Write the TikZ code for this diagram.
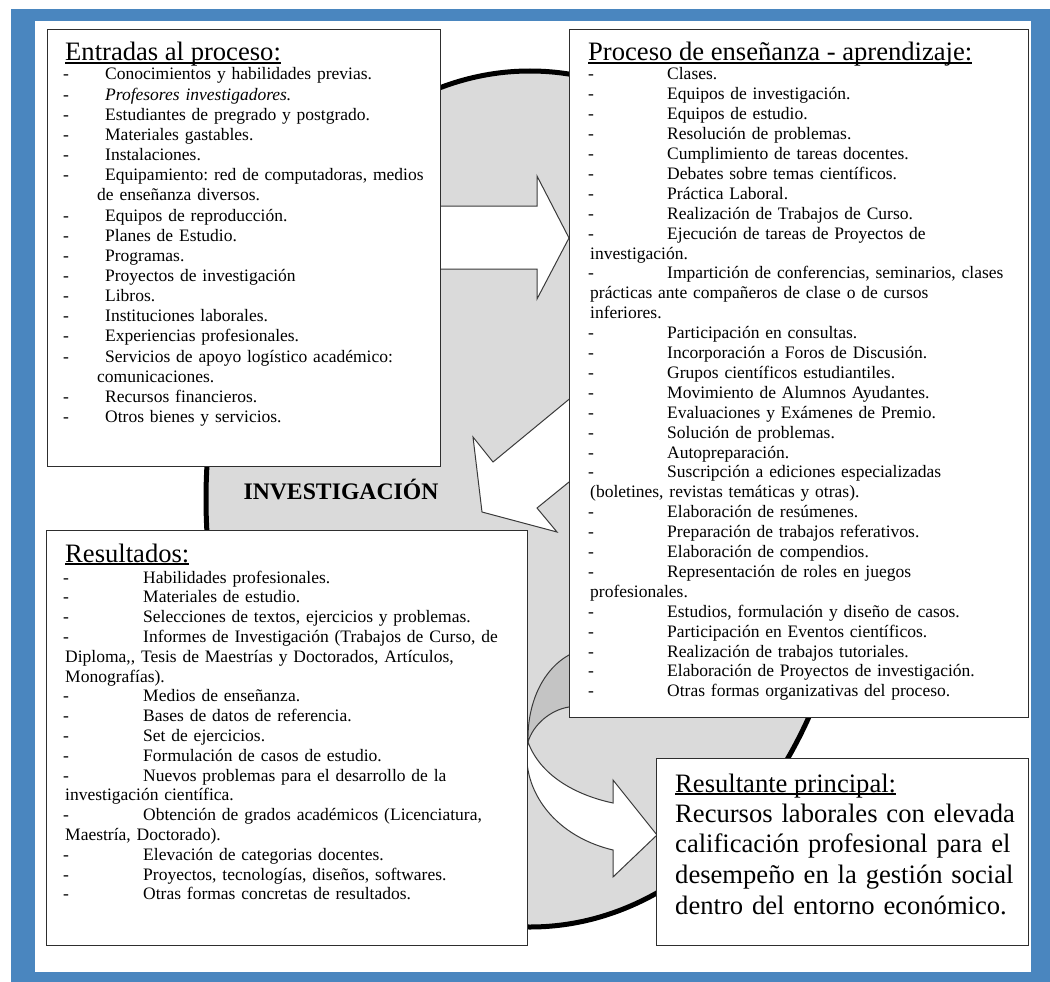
\documentclass[tikz,border=0pt]{standalone}
\usepackage{fontspec}
\setmainfont{Liberation Serif}
\frenchspacing
\definecolor{frameblue}{HTML}{4A86BF}
\definecolor{ellipsefill}{HTML}{DADADA}
\definecolor{bandgray}{HTML}{C4C4C4}
\definecolor{boxline}{HTML}{2E2E2E}
\definecolor{arrowline}{HTML}{3A3A3A}
% list lines: dash, then text at a tab stop; continuation lines
\newcommand\entItem[1]{\makebox[42pt][l]{-}{#1}}
\newcommand\entCont[1]{\hspace*{34pt}{#1}}
\newcommand\proItem[1]{\makebox[79pt][l]{-}{#1}}
\newcommand\proCont[1]{\hspace*{2pt}{#1}}
\newcommand\resItem[1]{\makebox[80pt][l]{-}{#1}}
\newcommand\resCont[1]{\hspace*{2pt}{#1}}
% underline sitting just under the baseline
\newcommand\titleUL[1]{\setbox0\hbox{#1}\rlap{\rule[-2.6pt]{\wd0}{1.3pt}}\box0}
\begin{document}
\begin{tikzpicture}[x=1pt,y=-1pt,
  box/.style={draw=boxline, line width=1.4pt, fill=white, anchor=north west, inner sep=0pt},
  listtext/.style={anchor=base west, inner sep=0pt, text width=450pt, align=left},
  titletext/.style={anchor=base west, inner sep=0pt, font=\fontsize{26.6}{31}\selectfont},
  hollow/.style={fill=white, draw=arrowline, line width=1pt, line join=miter},
]
\useasboundingbox (0,0) rectangle (1050,982);
% frame
\fill[frameblue] (11,9) rectangle (1050,982);
\fill[white] (35,21) rectangle (1031,972);

% research cycle
\draw[fill=ellipsefill, line width=5pt] (530,499) ellipse [x radius=324pt, y radius=428pt];

% arrow: inputs -> process
\draw[hollow] (430,206) -- (537,206) -- (537,176) -- (569,238) -- (537,299)
  -- (537,269) -- (430,269) -- cycle;
% arrow: process -> results
\draw[hollow] (590,382) -- (493,462) -- (473,437) -- (482,512) -- (557,532)
  -- (537,508) -- (590,465) -- cycle;
% curved arrow: back face
\draw[fill=bandgray, draw=arrowline, line width=1pt]
  (590,640) -- (569,655) .. controls (545,668) and (527,700) .. (528,742)
  .. controls (533,725) and (550,710) .. (569,707) -- (590,700) -- cycle;
% curved arrow: front face with head
\draw[hollow] (528,742) .. controls (520,785) and (550,835) .. (613,850)
  -- (613,877) -- (657,835) -- (613,780) -- (613,803)
  .. controls (575,795) and (540,775) .. (528,742) -- cycle;

% boxes
\node[box, minimum width=393pt, minimum height=437pt] (entradas) at (47,29) {};
\node[box, minimum width=459pt, minimum height=688pt] (proceso) at (569,29) {};
\node[box, minimum width=481pt, minimum height=415pt] (resultados) at (46,530) {};
\node[box, minimum width=372pt, minimum height=187pt] (resultante) at (656,758) {};

\node[font=\bfseries\fontsize{23.7}{28}\selectfont, inner sep=0pt] (invest) at (341,490) {INVESTIGACIÓN};

% inputs
\node[titletext] (entradas-title) at (65,61) {\titleUL{Entradas al proceso:}};
\node[listtext, font=\fontsize{17.5}{20.15}\selectfont] (entradas-list) at (63,80) {%
\entItem{Conocimientos y habilidades previas.}\\
\entItem{\itshape Profesores investigadores.}\\
\entItem{Estudiantes de pregrado y postgrado.}\\
\entItem{Materiales gastables.}\\
\entItem{Instalaciones.}\\
\entItem{Equipamiento: red de computadoras, medios}\\
\entCont{de enseñanza diversos.}\\
\entItem{Equipos de reproducción.}\\
\entItem{Planes de Estudio.}\\
\entItem{Programas.}\\
\entItem{Proyectos de investigación}\\
\entItem{Libros.}\\
\entItem{Instituciones laborales.}\\
\entItem{Experiencias profesionales.}\\
\entItem{Servicios de apoyo logístico académico:}\\
\entCont{comunicaciones.}\\
\entItem{Recursos financieros.}\\
\entItem{Otros bienes y servicios.}};

% teaching-learning process
\node[titletext] (proceso-title) at (588,61) {\titleUL{Proceso de enseñanza - aprendizaje:}};
\node[listtext, font=\fontsize{17.5}{19.9}\selectfont] (proceso-list) at (588,80) {%
\proItem{Clases.}\\
\proItem{Equipos de investigación.}\\
\proItem{Equipos de estudio.}\\
\proItem{Resolución de problemas.}\\
\proItem{Cumplimiento de tareas docentes.}\\
\proItem{Debates sobre temas científicos.}\\
\proItem{Práctica Laboral.}\\
\proItem{Realización de Trabajos de Curso.}\\
\proItem{Ejecución de tareas de Proyectos de}\\
\proCont{investigación.}\\
\proItem{Impartición de conferencias, seminarios, clases}\\
\proCont{prácticas ante compañeros de clase o de cursos}\\
\proCont{inferiores.}\\
\proItem{Participación en consultas.}\\
\proItem{Incorporación a Foros de Discusión.}\\
\proItem{Grupos científicos estudiantiles.}\\
\proItem{Movimiento de Alumnos Ayudantes.}\\
\proItem{Evaluaciones y Exámenes de Premio.}\\
\proItem{Solución de problemas.}\\
\proItem{Autopreparación.}\\
\proItem{Suscripción a ediciones especializadas}\\
\proCont{(boletines, revistas temáticas y otras).}\\
\proItem{Elaboración de resúmenes.}\\
\proItem{Preparación de trabajos referativos.}\\
\proItem{Elaboración de compendios.}\\
\proItem{Representación de roles en juegos}\\
\proCont{profesionales.}\\
\proItem{Estudios, formulación y diseño de casos.}\\
\proItem{Participación en Eventos científicos.}\\
\proItem{Realización de trabajos tutoriales.}\\
\proItem{Elaboración de Proyectos de investigación.}\\
\proItem{Otras formas organizativas del proceso.}};

% results
\node[titletext] (resultados-title) at (65,562) {\titleUL{Resultados:}};
\node[listtext, font=\fontsize{17.5}{19.8}\selectfont] (resultados-list) at (63,583) {%
\resItem{Habilidades profesionales.}\\
\resItem{Materiales de estudio.}\\
\resItem{Selecciones de textos, ejercicios y problemas.}\\
\resItem{Informes de Investigación (Trabajos de Curso, de}\\
\resCont{Diploma,{}, Tesis de Maestrías y Doctorados, Artículos,}\\
\resCont{Monografías).}\\
\resItem{Medios de enseñanza.}\\
\resItem{Bases de datos de referencia.}\\
\resItem{Set de ejercicios.}\\
\resItem{Formulación de casos de estudio.}\\
\resItem{Nuevos problemas para el desarrollo de la}\\
\resCont{investigación científica.}\\
\resItem{Obtención de grados académicos (Licenciatura,}\\
\resCont{Maestría, Doctorado).}\\
\resItem{Elevación de categorias docentes.}\\
\resItem{Proyectos, tecnologías, diseños, softwares.}\\
\resItem{Otras formas concretas de resultados.}};

% main outcome
\node[titletext] (resultante-title) at (675,792) {\titleUL{Resultante principal:}};
\node[listtext, text width=350pt, font=\fontsize{26.6}{30.7}\selectfont] (resultante-text) at (675,822) {%
Recursos laborales con elevada\\
calificación profesional para el\\
desempeño en la gestión social\\
dentro del entorno económico.};
\end{tikzpicture}
\end{document}
